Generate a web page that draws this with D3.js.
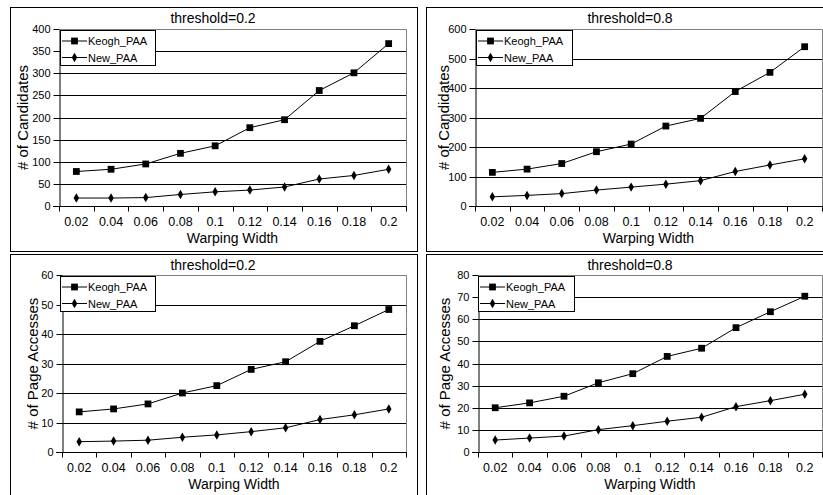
<!DOCTYPE html>
<html>
<head>
<meta charset="utf-8">
<script src="https://cdn.jsdelivr.net/npm/d3@7"></script>
<style>
  body { margin: 0; background: #fff; }
  text { font-family: "Liberation Sans", Arial, sans-serif; fill: #000; }
</style>
</head>
<body>
<div id="chart"></div>
<script>
// warping widths (x categories)
const widths = ["0.02", "0.04", "0.06", "0.08", "0.1", "0.12", "0.14", "0.16", "0.18", "0.2"];

// # of candidates
const candKeogh02 = [78, 83, 95, 119, 136, 177, 195, 261, 301, 367];
const candNew02 = [18, 18, 19, 26, 32, 36, 43, 61, 69, 83];
const candKeogh08 = [114, 125, 144, 184, 210, 271, 297, 388, 453, 540];
const candNew08 = [31, 36, 42, 54, 64, 74, 86, 117, 139, 160];

// # of page accesses
const pageKeogh02 = [13.6, 14.6, 16.3, 20.0, 22.5, 28.0, 30.6, 37.5, 42.8, 48.3];
const pageNew02 = [3.5, 3.7, 4.0, 5.0, 5.8, 6.9, 8.2, 11.0, 12.6, 14.6];
const pageKeogh08 = [20.0, 22.2, 25.2, 31.3, 35.4, 43.2, 46.9, 56.2, 63.4, 70.4];
const pageNew08 = [5.4, 6.3, 7.2, 10.1, 11.9, 13.9, 15.7, 20.5, 23.2, 26.1];

// y tick values
const candTicks02 = [0, 50, 100, 150, 200, 250, 300, 350, 400];
const candTicks08 = [0, 100, 200, 300, 400, 500, 600];
const pageTicks02 = [0, 10, 20, 30, 40, 50, 60];
const pageTicks08 = [0, 10, 20, 30, 40, 50, 60, 70, 80];

const seriesNames = ["Keogh_PAA", "New_PAA"];

const W = 823, H = 495;
const svg = d3.select("#chart").append("svg")
    .attr("width", W)
    .attr("height", H);

// panel layouts
const panels = [
    {title: "threshold=0.2", ylabel: "# of Candidates", keogh: candKeogh02, neu: candNew02, ticks: candTicks02,
     border: [10, 7, 417, 251], plot: [59, 29, 406, 206], titleX: 213, ylabX: 23, legend: [60, 30, 155, 65]},
    {title: "threshold=0.8", ylabel: "# of Candidates", keogh: candKeogh08, neu: candNew08, ticks: candTicks08,
     border: [426, 7, 833, 251], plot: [475, 29, 822, 206], titleX: 630, ylabX: 444, legend: [476, 30, 572, 65]},
    {title: "threshold=0.2", ylabel: "# of Page Accesses", keogh: pageKeogh02, neu: pageNew02, ticks: pageTicks02,
     border: [10, 254, 417, 498], plot: [62, 275, 406, 452], titleX: 213, ylabX: 33, legend: [60, 276, 155, 311]},
    {title: "threshold=0.8", ylabel: "# of Page Accesses", keogh: pageKeogh08, neu: pageNew08, ticks: pageTicks08,
     border: [426, 254, 833, 498], plot: [478, 275, 822, 452], titleX: 630, ylabX: 445, legend: [478, 276, 574, 311]}
];

const square = d3.symbol().type(d3.symbolSquare).size(46);
const diamond = d3.symbol().type(d3.symbolDiamond).size(26);

panels.forEach(function(p) {
    const g = svg.append("g");
    const [bx0, by0, bx1, by1] = p.border;
    const [px0, py0, px1, py1] = p.plot;

    // panel frame
    g.append("rect")
        .attr("x", bx0 + 0.5).attr("y", by0 + 0.5)
        .attr("width", bx1 - bx0).attr("height", by1 - by0)
        .attr("fill", "#fff").attr("stroke", "#000");

    const x = d3.scaleBand().domain(widths).range([px0, px1]).padding(0);
    const y = d3.scaleLinear().domain([0, d3.max(p.ticks)]).range([py1, py0]);
    const cx = d => x(d) + x.bandwidth() / 2;

    // gridlines
    g.selectAll(".grid")
        .data(p.ticks.slice(1, -1))
        .join("line")
        .attr("x1", px0).attr("x2", px1)
        .attr("y1", d => Math.round(y(d)) + 0.5)
        .attr("y2", d => Math.round(y(d)) + 0.5)
        .attr("stroke", "#000");

    // plot area border (top/right grey)
    g.append("path")
        .attr("d", `M${px0 + 0.5},${py0 + 0.5}H${px1 + 0.5}V${py1 + 0.5}`)
        .attr("fill", "none").attr("stroke", "#808080");

    // y axis
    const yAxis = g.append("g")
        .attr("transform", `translate(${px0 + 0.5},0.5)`)
        .call(d3.axisLeft(y).tickValues(p.ticks).tickSize(6).tickPadding(3).tickSizeOuter(0));
    yAxis.select(".domain").attr("stroke", "#000");
    yAxis.selectAll("text").style("font-size", "11px").style("font-family", "Liberation Sans, Arial, sans-serif");
    yAxis.selectAll(".tick").attr("transform", d => `translate(0,${Math.round(y(d))})`);

    // x axis
    const base = Math.round(y(0)) + 0.5;
    g.append("line")
        .attr("x1", px0 - 6).attr("x2", px1 + 0.5)
        .attr("y1", base).attr("y2", base)
        .attr("stroke", "#000");
    const bounds = widths.map(d => x(d)).concat([px1]);
    g.selectAll(".xtick")
        .data(bounds)
        .join("line")
        .attr("x1", d => Math.round(d) + 0.5).attr("x2", d => Math.round(d) + 0.5)
        .attr("y1", base).attr("y2", base + 5)
        .attr("stroke", "#000");
    g.selectAll(".xlab")
        .data(widths)
        .join("text")
        .attr("x", d => cx(d))
        .attr("y", base + 19)
        .attr("text-anchor", "middle")
        .style("font-size", "12.5px")
        .text(d => d);

    // axis titles
    g.append("text")
        .attr("x", (px0 + px1) / 2).attr("y", base + 36)
        .attr("text-anchor", "middle")
        .style("font-size", "14px")
        .text("Warping Width");
    g.append("text")
        .attr("transform", `translate(${p.ylabX + 5},${(py0 + py1) / 2}) rotate(-90)`)
        .attr("text-anchor", "middle")
        .style("font-size", "15px")
        .text(p.ylabel);
    g.append("text")
        .attr("x", p.titleX).attr("y", by0 + 16)
        .attr("text-anchor", "middle")
        .style("font-size", "14px")
        .text(p.title);

    // lines
    const line = d3.line().x((d, i) => cx(widths[i])).y(d => y(d));
    [p.keogh, p.neu].forEach(function(vals, k) {
        g.append("path")
            .datum(vals)
            .attr("d", line)
            .attr("fill", "none")
            .attr("stroke", "#000")
            .attr("stroke-width", 1);
        g.selectAll(".m" + k)
            .data(vals)
            .join("path")
            .attr("d", k === 0 ? square : diamond)
            .attr("transform", (d, i) => `translate(${cx(widths[i])},${y(d)})`)
            .attr("fill", "#000");
    });

    // legend
    const [lx0, ly0, lx1, ly1] = p.legend;
    g.append("rect")
        .attr("x", lx0 + 0.5).attr("y", ly0 + 0.5)
        .attr("width", lx1 - lx0).attr("height", ly1 - ly0)
        .attr("fill", "#fff").attr("stroke", "#000");
    seriesNames.forEach(function(name, k) {
        const ly = ly0 + 11 + k * 16.5;
        g.append("line")
            .attr("x1", lx0 + 2).attr("x2", lx0 + 27)
            .attr("y1", ly).attr("y2", ly)
            .attr("stroke", "#000");
        g.append("path")
            .attr("d", k === 0 ? square : diamond)
            .attr("transform", `translate(${lx0 + 14.5},${ly})`)
            .attr("fill", "#000");
        g.append("text")
            .attr("x", lx0 + 28).attr("y", ly + 4)
            .style("font-size", "11px")
            .text(name);
    });
});
</script>
</body>
</html>
